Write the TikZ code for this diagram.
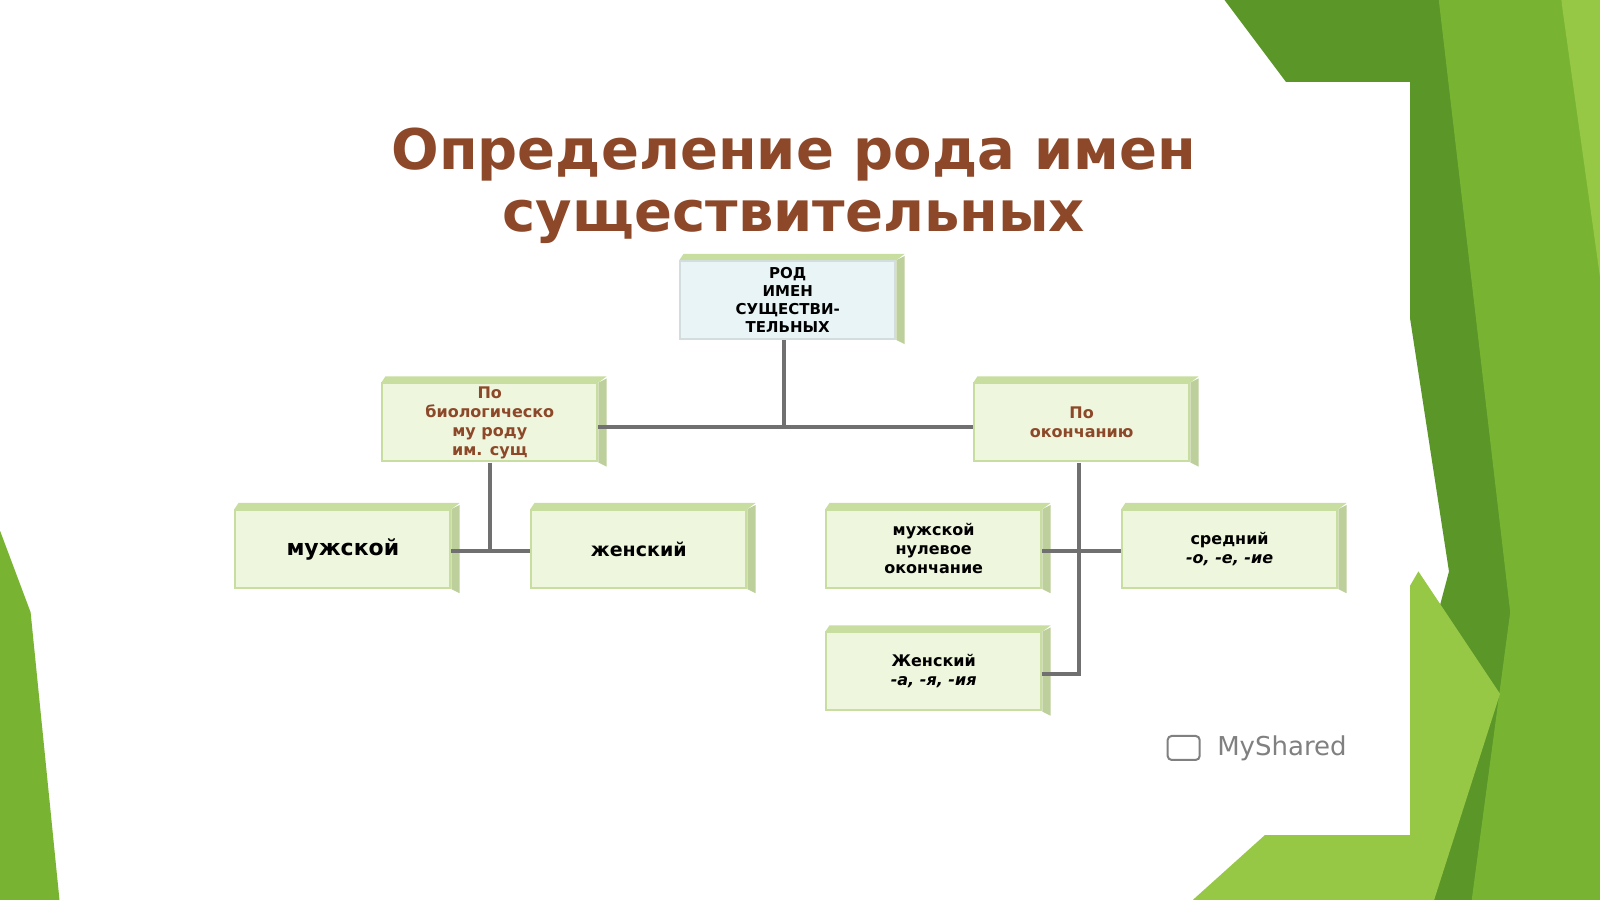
\documentclass[tikz,border=0pt]{standalone}
\usepackage{fontspec}
\setmainfont{DejaVu Sans}
\usetikzlibrary{calc}
\definecolor{gA}{RGB}{120,180,50}
\definecolor{gB}{RGB}{90,150,40}
\definecolor{gC}{RGB}{150,200,70}
\definecolor{boxf}{RGB}{238,246,222}
\definecolor{boxe}{RGB}{200,222,160}
\definecolor{topf}{RGB}{232,244,246}
\definecolor{tit}{RGB}{140,72,40}
\definecolor{ln}{RGB}{112,112,112}
\tikzset{
 bx/.style={draw=boxe,line width=1pt,fill=boxf,minimum width=107.5pt,minimum height=39pt,align=center,font=\bfseries\fontsize{8}{9.5}\selectfont,inner sep=1pt,
   append after command={\pgfextra{\fill[boxe!85!gray] (\tikzlastnode.north east) -- ++(4pt,2pt) -- ($(\tikzlastnode.south east)+(4pt,-2pt)$) -- (\tikzlastnode.south east) -- cycle;
   \fill[boxe] (\tikzlastnode.north west) -- ++(2pt,3pt) -- ($(\tikzlastnode.north east)+(4pt,3pt)$) -- (\tikzlastnode.north east) -- cycle;}}},
 con/.style={draw=ln,line width=2pt}
}
\begin{document}
\begin{tikzpicture}[x=0.5pt,y=-0.5pt]
\useasboundingbox (0,0) rectangle (1600,899);
\fill[white] (0,0) rectangle (1600,899);
\begin{scope}[scale=1.0204]
\fill[gB] (1200,0) -- (1600,0) -- (1600,899) -- (1330,899) -- (1420,560) -- (1380,300) -- (1260,80) -- cycle;
\fill[gA] (1410,0) -- (1530,0) -- (1600,380) -- (1600,899) -- (1440,899) -- (1480,600) -- cycle;
\fill[gC] (1530,0) -- (1600,0) -- (1600,500) -- cycle;
\fill[gC] (1390,560) -- (1470,680) -- (1400,899) -- (1150,899) -- (1240,818) -- cycle;
\fill[gA] (0,520) -- (30,600) -- (60,899) -- (0,899) -- cycle;
\fill[white] (60,80) rectangle (1382,818);
\fill[white] (0,80) rectangle (60,520);
\node[font=\bfseries\fontsize{28}{31}\selectfont,text=tit,align=center] (t) at (778,182) {Определение рода имен\\существительных};
\node[bx,fill=topf,draw=topf!80!gray,font=\bfseries\fontsize{7.5}{9}\selectfont] (top) at (772,294) {РОД\\ИМЕН\\СУЩЕСТВИ-\\ТЕЛЬНЫХ};
\node[bx,text=tit] (bio) at (480,414) {По\\биологическо\\му роду\\им. сущ};
\node[bx,text=tit] (end) at (1060,414) {По\\окончанию};
\node[bx,font=\bfseries\fontsize{11}{13}\selectfont] (m) at (336,538) {мужской};
\node[bx,font=\bfseries\fontsize{9.5}{11}\selectfont] (f) at (626,538) {женский};
\node[bx] (mn) at (915,538) {мужской\\нулевое\\окончание};
\node[bx] (n) at (1205,538) {средний\\\textit{-о, -е, -ие}};
\node[bx] (fa) at (915,658) {Женский\\\textit{-а, -я, -ия}};
\coordinate (j1) at (768,418);
\coordinate (j2) at (480,540);
\coordinate (j3) at (1057,540);
\coordinate (j4) at (1057,660);
\draw[con] (top.south -| j1) -- (j1);
\draw[con] (bio.east |- j1) -- (end.west |- j1);
\draw[con] (bio.south -| j2) -- (j2);
\draw[con] (m.east |- j2) -- (f.west |- j2);
\draw[con] (end.south -| j3) -- (j4) -- (fa.east |- j4);
\draw[con] (mn.east |- j3) -- (n.west |- j3);
\node[text=gray,font=\fontsize{13}{13}\selectfont,anchor=west] (logo) at (1186,733) {MyShared};
\node[draw=gray,line width=1pt,minimum width=16pt,minimum height=12pt,rounded corners=2pt] (ic) at (1160,733) {};
\end{scope}
\end{tikzpicture}
\end{document}
